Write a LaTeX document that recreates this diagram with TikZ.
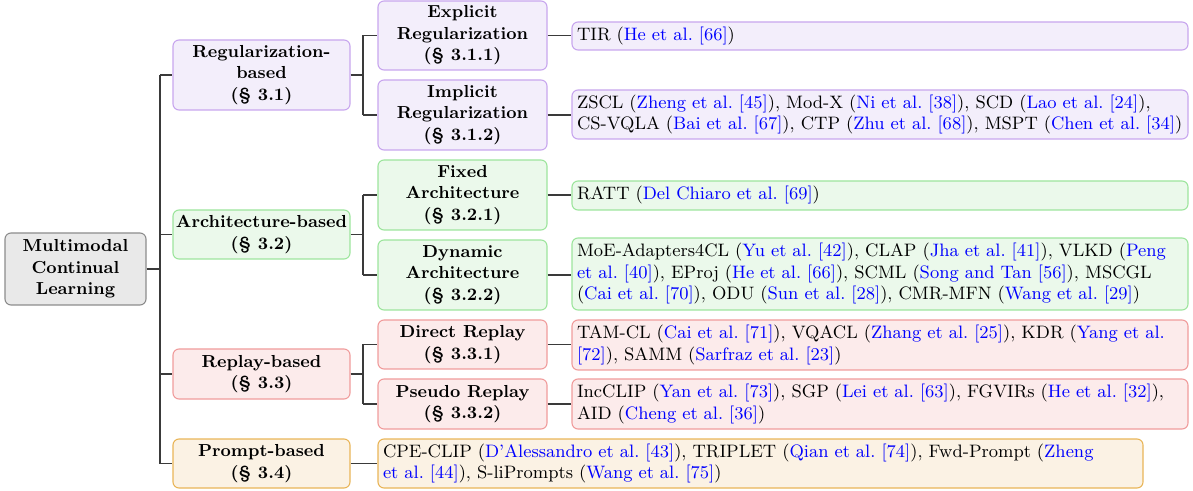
\documentclass[tikz,border=0pt]{standalone}
\usepackage{tikz}
\definecolor{purpfill}{HTML}{F3EEFB}
\definecolor{purpdraw}{HTML}{C8A6EE}
\definecolor{greenfill}{HTML}{EBF9EB}
\definecolor{greendraw}{HTML}{9DE59D}
\definecolor{redfill}{HTML}{FCEBEB}
\definecolor{reddraw}{HTML}{F09C9C}
\definecolor{orfill}{HTML}{FBF2E4}
\definecolor{ordraw}{HTML}{E9B558}
\definecolor{greyfill}{HTML}{E9E9E9}
\definecolor{greydraw}{HTML}{8C8C8C}
\definecolor{linkblue}{HTML}{0000FF}
\definecolor{linecol}{HTML}{3A3A3A}
\newcommand{\ct}[1]{\textcolor{linkblue}{#1}}
\frenchspacing
\begin{document}
\begin{tikzpicture}[x=0.5pt,y=-0.5pt,
  box/.style={rounded corners=3pt, line width=0.55pt, inner sep=0pt},
  catbox/.style={box, align=center, font=\fontsize{8.7}{10.75}\selectfont\bfseries},
  rootbox/.style={catbox, draw=greydraw, fill=greyfill, minimum width=70.5pt, minimum height=36pt},
  lone/.style={catbox, minimum width=88.5pt},
  ltwo/.style={catbox, minimum width=84.5pt},
  leaf/.style={box, align=left, inner xsep=2.5pt, text width=303pt, font=\fontsize{9.0}{10.75}\selectfont},
  pleafbox/.style={box, align=left, inner xsep=2.5pt, text width=377.5pt, font=\fontsize{9.0}{10.75}\selectfont},
  purp/.style={draw=purpdraw, fill=purpfill},
  grn/.style={draw=greendraw, fill=greenfill},
  rd/.style={draw=reddraw, fill=redfill},
  org/.style={draw=ordraw, fill=orfill},
  conn/.style={draw=linecol, line width=0.6pt}
]
\useasboundingbox (0,0) rectangle (1193,491);

% root
\node[rootbox] (root) at (75.5,269) {Multimodal\\Continual\\Learning};

% level 1
\node[lone, purp, minimum height=35pt] (reg) at (261.5,75) {Regularization-\\based\\(\S~3.1)};
\node[lone, grn, minimum height=24.5pt] (arch) at (261.5,234.5) {Architecture-based\\(\S~3.2)};
\node[lone, rd, minimum height=25pt] (replay) at (261.5,374) {Replay-based\\(\S~3.3)};
\node[lone, org, minimum height=24.5pt] (prompt) at (261.5,463.5) {Prompt-based\\(\S~3.4)};

% level 2
\node[ltwo, purp, minimum height=34.5pt] (exp) at (462.5,35.5) {Explicit\\Regularization\\(\S~3.1.1)};
\node[ltwo, purp, minimum height=35pt] (imp) at (462.5,115) {Implicit\\Regularization\\(\S~3.1.2)};
\node[ltwo, grn, minimum height=35pt] (fix) at (462.5,195) {Fixed\\Architecture\\(\S~3.2.1)};
\node[ltwo, grn, minimum height=35pt] (dyn) at (462.5,275) {Dynamic\\Architecture\\(\S~3.2.2)};
\node[ltwo, rd, minimum height=24.5pt] (direct) at (462.5,344.5) {Direct Replay\\(\S~3.3.1)};
\node[ltwo, rd, minimum height=25pt] (pseudo) at (462.5,404) {Pseudo Replay\\(\S~3.3.2)};

% leaves
\node[leaf, purp, minimum height=14pt] (tir) at (880,36) {TIR (\ct{He et al. [66]})};
\node[leaf, purp, minimum height=24.5pt] (zscl) at (880,114.5) {ZSCL (\ct{Zheng et al. [45]}), Mod-X (\ct{Ni et al. [38]}), SCD (\ct{Lao et al. [24]}),\\CS-VQLA (\ct{Bai et al. [67]}), CTP (\ct{Zhu et al. [68]}), MSPT (\ct{Chen et al. [34]})};
\node[leaf, grn, minimum height=14.5pt] (ratt) at (880,195.5) {RATT (\ct{Del Chiaro et al. [69]})};
\node[leaf, grn, minimum height=36pt] (moe) at (880,274) {MoE-Adapters4CL (\ct{Yu et al. [42]}), CLAP (\ct{Jha et al. [41]}), VLKD (\ct{Peng}\\\ct{et al. [40]}), EProj (\ct{He et al. [66]}), SCML (\ct{Song and Tan [56]}), MSCGL\\(\ct{Cai et al. [70]}), ODU (\ct{Sun et al. [28]}), CMR-MFN (\ct{Wang et al. [29]})};
\node[leaf, rd, minimum height=25pt] (tam) at (880,345) {TAM-CL (\ct{Cai et al. [71]}), VQACL (\ct{Zhang et al. [25]}), KDR (\ct{Yang et al.}\\\ct{[72]}), SAMM (\ct{Sarfraz et al. [23]})};
\node[leaf, rd, minimum height=25pt] (inc) at (880,404) {IncCLIP (\ct{Yan et al. [73]}), SGP (\ct{Lei et al. [63]}), FGVIRs (\ct{He et al. [32]}),\\AID (\ct{Cheng et al. [36]})};
\node[pleafbox, org, minimum height=24.5pt] (pleaf) at (760.5,463.5) {CPE-CLIP (\ct{D'Alessandro et al. [43]}), TRIPLET (\ct{Qian et al. [74]}), Fwd-Prompt (\ct{Zheng}\\\ct{et al. [44]}), S-liPrompts (\ct{Wang et al. [75]})};

% connectors
\coordinate (t1) at (160,0);
\coordinate (t2) at (363,0);
\draw[conn] (root.east) -- (root.east -| t1);
\draw[conn] (reg.west -| t1) -- (prompt.west -| t1);
\foreach \n in {reg,arch,replay,prompt} \draw[conn] (\n.west -| t1) -- (\n.west);

\draw[conn] (reg.east) -- (reg.east -| t2);
\draw[conn] (exp.west -| t2) -- (imp.west -| t2);
\draw[conn] (arch.east) -- (arch.east -| t2);
\draw[conn] (fix.west -| t2) -- (dyn.west -| t2);
\draw[conn] (replay.east) -- (replay.east -| t2);
\draw[conn] (direct.west -| t2) -- (pseudo.west -| t2);
\foreach \n in {exp,imp,fix,dyn,direct,pseudo} \draw[conn] (\n.west -| t2) -- (\n.west);

\draw[conn] (prompt.east) -- (pleaf.west);
\draw[conn] (exp.east) -- (exp.east -| tir.west);
\draw[conn] (imp.east) -- (imp.east -| zscl.west);
\draw[conn] (fix.east) -- (fix.east -| ratt.west);
\draw[conn] (dyn.east) -- (dyn.east -| moe.west);
\draw[conn] (direct.east) -- (direct.east -| tam.west);
\draw[conn] (pseudo.east) -- (pseudo.east -| inc.west);
\end{tikzpicture}
\end{document}
